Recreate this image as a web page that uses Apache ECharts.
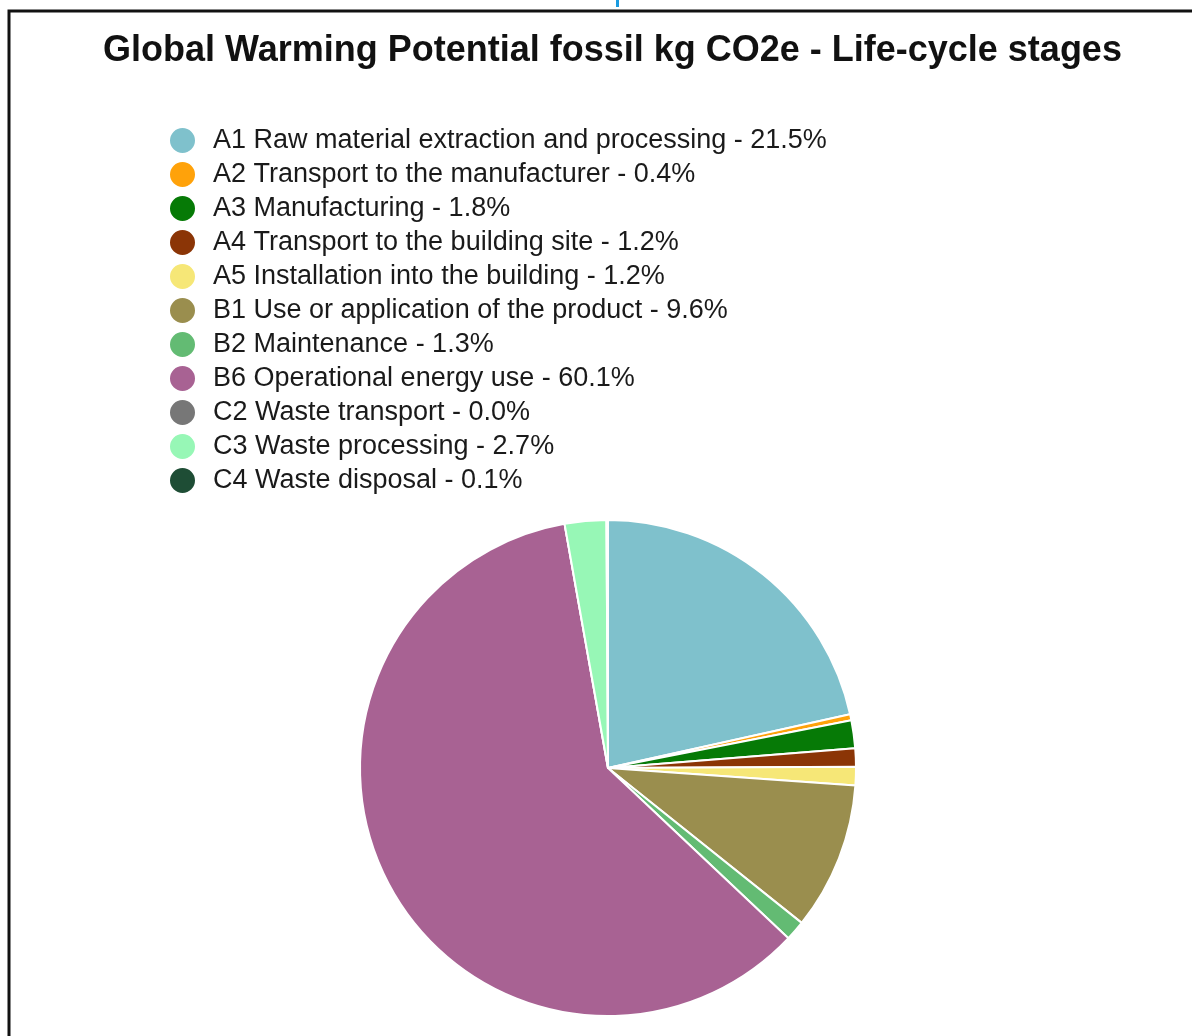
<!DOCTYPE html>
<html>
<head>
<meta charset="utf-8">
<script src="https://cdn.jsdelivr.net/npm/echarts@6/dist/echarts.min.js"></script>
<style>
html, body { margin: 0; padding: 0; background: #fff; }
#main { width: 1192px; height: 1036px; }
</style>
</head>
<body>
<div id="main"></div>
<script>
var stages = [
    'A1 Raw material extraction and processing',
    'A2 Transport to the manufacturer',
    'A3 Manufacturing',
    'A4 Transport to the building site',
    'A5 Installation into the building',
    'B1 Use or application of the product',
    'B2 Maintenance',
    'B6 Operational energy use',
    'C2 Waste transport',
    'C3 Waste processing',
    'C4 Waste disposal'
];
var shares = [21.5, 0.4, 1.8, 1.2, 1.2, 9.6, 1.3, 60.1, 0.0, 2.7, 0.1];
var colors = ['#7fc1cc', '#ffa20a', '#067a06', '#8b3506', '#f6e777', '#9a8e4e',
    '#63bb73', '#a86293', '#777777', '#97f7b6', '#1e4d35'];

function buildData() {
    var data = [];
    for (var i = 0; i < stages.length; i++) {
        data.push({ name: stages[i], value: shares[i], itemStyle: { color: colors[i] } });
    }
    return data;
}

function draw() {
    var myChart = echarts.init(document.getElementById('main'), null, {
        width: 1192,
        height: 1036
    });
    var lookup = {};
    for (var i = 0; i < stages.length; i++) {
        lookup[stages[i]] = shares[i];
    }
    var option = {
        animation: false,
        title: {
            text: 'Global Warming Potential fossil kg CO2e - Life-cycle stages',
            left: 98,
            top: 28,
            textStyle: {
                fontFamily: 'Liberation Sans',
                fontSize: 36,
                fontWeight: 'bold',
                color: '#111'
            }
        },
        legend: {
            orient: 'vertical',
            left: 168,
            top: 126,
            padding: 0,
            icon: 'circle',
            itemWidth: 27,
            itemHeight: 27,
            itemGap: 5,
            data: stages,
            textStyle: {
                fontFamily: 'Liberation Sans',
                fontSize: 27,
                lineHeight: 27,
                padding: [0, 0, 0, 12],
                color: '#1a1a1a'
            },
            formatter: function (name) {
                return name + ' - ' + lookup[name].toFixed(1) + '%';
            }
        },
        graphic: [
            {
                type: 'rect',
                shape: { x: 9, y: 11, width: 1200, height: 1100 },
                style: { fill: 'none', stroke: '#111', lineWidth: 3 }
            },
            {
                type: 'rect',
                shape: { x: 616, y: 0, width: 3, height: 7 },
                style: { fill: '#1a9be0' }
            }
        ],
        series: [
            {
                type: 'pie',
                center: [608, 768],
                radius: 248,
                startAngle: 90,
                clockwise: true,
                avoidLabelOverlap: false,
                label: { show: false },
                labelLine: { show: false },
                emphasis: { disabled: true },
                itemStyle: {
                    borderColor: '#fff',
                    borderWidth: 2
                },
                data: buildData()
            }
        ]
    };
    myChart.setOption(option);
}

draw();
</script>
</body>
</html>
